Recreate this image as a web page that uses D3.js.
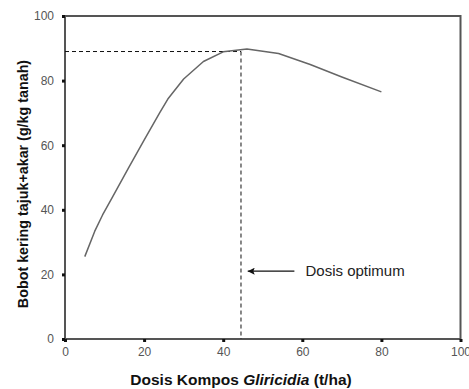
<!DOCTYPE html>
<html>
<head>
<meta charset="utf-8">
<script src="https://cdn.jsdelivr.net/npm/d3@7"></script>
<style>
  body { margin: 0; background: #fff; }
  svg { display: block; font-family: "Liberation Sans", Arial, sans-serif; }
</style>
</head>
<body>
<svg id="chart" width="469" height="389"></svg>
<script>
/*** DATA ***/
const dose = [5, 7.5, 9.5, 12, 16, 20, 24, 26, 30, 35, 40, 46, 54, 62, 70, 80];
const weight = [25.5, 33.3, 38.4, 43.9, 52.8, 61.6, 70.2, 74.3, 80.5, 85.9, 88.9, 89.8, 88.4, 85, 81.1, 76.5];
const xTicks = [0, 20, 40, 60, 80, 100];
const yTicks = [0, 20, 40, 60, 80, 100];
const optDose = 44.5;
const optWeight = 89;
const annotation = "Dosis optimum";

const WIDTH = 469, HEIGHT = 389;
const margin = {top: 16, right: 8, bottom: 50, left: 65};

const svg = d3.select("#chart");

const x = d3.scaleLinear().domain([0, 100]).range([margin.left, WIDTH - margin.right - 0.5]);
const y = d3.scaleLinear().domain([0, 100]).range([HEIGHT - margin.bottom, margin.top]);

const AXIS = "#555";

// frame
svg.append("rect")
  .attr("x", x(0)).attr("y", y(100))
  .attr("width", x(100) - x(0)).attr("height", y(0) - y(100))
  .attr("fill", "none").attr("stroke", AXIS).attr("stroke-width", 2);

// axes
const xAxis = svg.append("g")
  .attr("transform", `translate(0,${y(0)})`)
  .call(d3.axisBottom(x).tickValues(xTicks).tickSize(3).tickPadding(5).tickSizeOuter(0));
const yAxis = svg.append("g")
  .attr("transform", `translate(${x(0)},0)`)
  .call(d3.axisLeft(y).tickValues(yTicks).tickSize(3).tickPadding(8).tickSizeOuter(0));

[xAxis, yAxis].forEach(g => {
  g.select(".domain").remove();
  g.selectAll(".tick line").attr("stroke", "#111").attr("stroke-width", 3);
  g.selectAll(".tick text").attr("fill", "#555").style("font-size", "12px").style("font-family", "Liberation Sans, Arial, sans-serif");
});

// dashed guides
svg.append("line")
  .attr("x1", x(0)).attr("x2", x(optDose))
  .attr("y1", y(optWeight)).attr("y2", y(optWeight))
  .attr("stroke", "#111").attr("stroke-dasharray", "4,3");
svg.append("line")
  .attr("x1", x(optDose)).attr("x2", x(optDose))
  .attr("y1", y(optWeight)).attr("y2", y(0))
  .attr("stroke", "#111").attr("stroke-dasharray", "4,3");

// curve
const line = d3.line()
  .x((d, i) => x(dose[i]))
  .y(d => y(d));

svg.append("path")
  .datum(weight)
  .attr("d", line)
  .attr("fill", "none")
  .attr("stroke", "#666")
  .attr("stroke-width", 1.5)
  .attr("stroke-linejoin", "round");

// annotation arrow
svg.append("defs").append("marker")
  .attr("id", "arrow")
  .attr("viewBox", "0 0 10 10")
  .attr("refX", 0).attr("refY", 5)
  .attr("markerWidth", 8).attr("markerHeight", 7)
  .attr("markerUnits", "userSpaceOnUse")
  .attr("orient", "auto")
  .append("path")
  .attr("d", "M0,5 L10,0 L8,5 L10,10 Z")
  .attr("fill", "#111");

svg.append("line")
  .attr("x1", x(46.2)).attr("x2", x(58))
  .attr("y1", y(21)).attr("y2", y(21))
  .attr("stroke", "#111").attr("stroke-width", 1.3)
  .attr("marker-start", "url(#arrow)");

svg.append("text")
  .attr("x", x(60.8)).attr("y", y(21))
  .attr("dy", "0.35em")
  .attr("fill", "#222")
  .style("font-size", "15px")
  .text(annotation);

// axis titles
svg.append("text")
  .attr("x", 241).attr("y", 385)
  .attr("text-anchor", "middle")
  .attr("fill", "#111")
  .style("font-size", "15.5px").style("font-weight", "bold")
  .call(t => {
    t.append("tspan").text("Dosis Kompos ");
    t.append("tspan").style("font-style", "italic").text("Gliricidia");
    t.append("tspan").text(" (t/ha)");
  });

svg.append("text")
  .attr("transform", `translate(28,184) rotate(-90)`)
  .attr("text-anchor", "middle")
  .attr("fill", "#111")
  .style("font-size", "14.3px").style("font-weight", "bold")
  .text("Bobot kering tajuk+akar (g/kg tanah)");
</script>
</body>
</html>
